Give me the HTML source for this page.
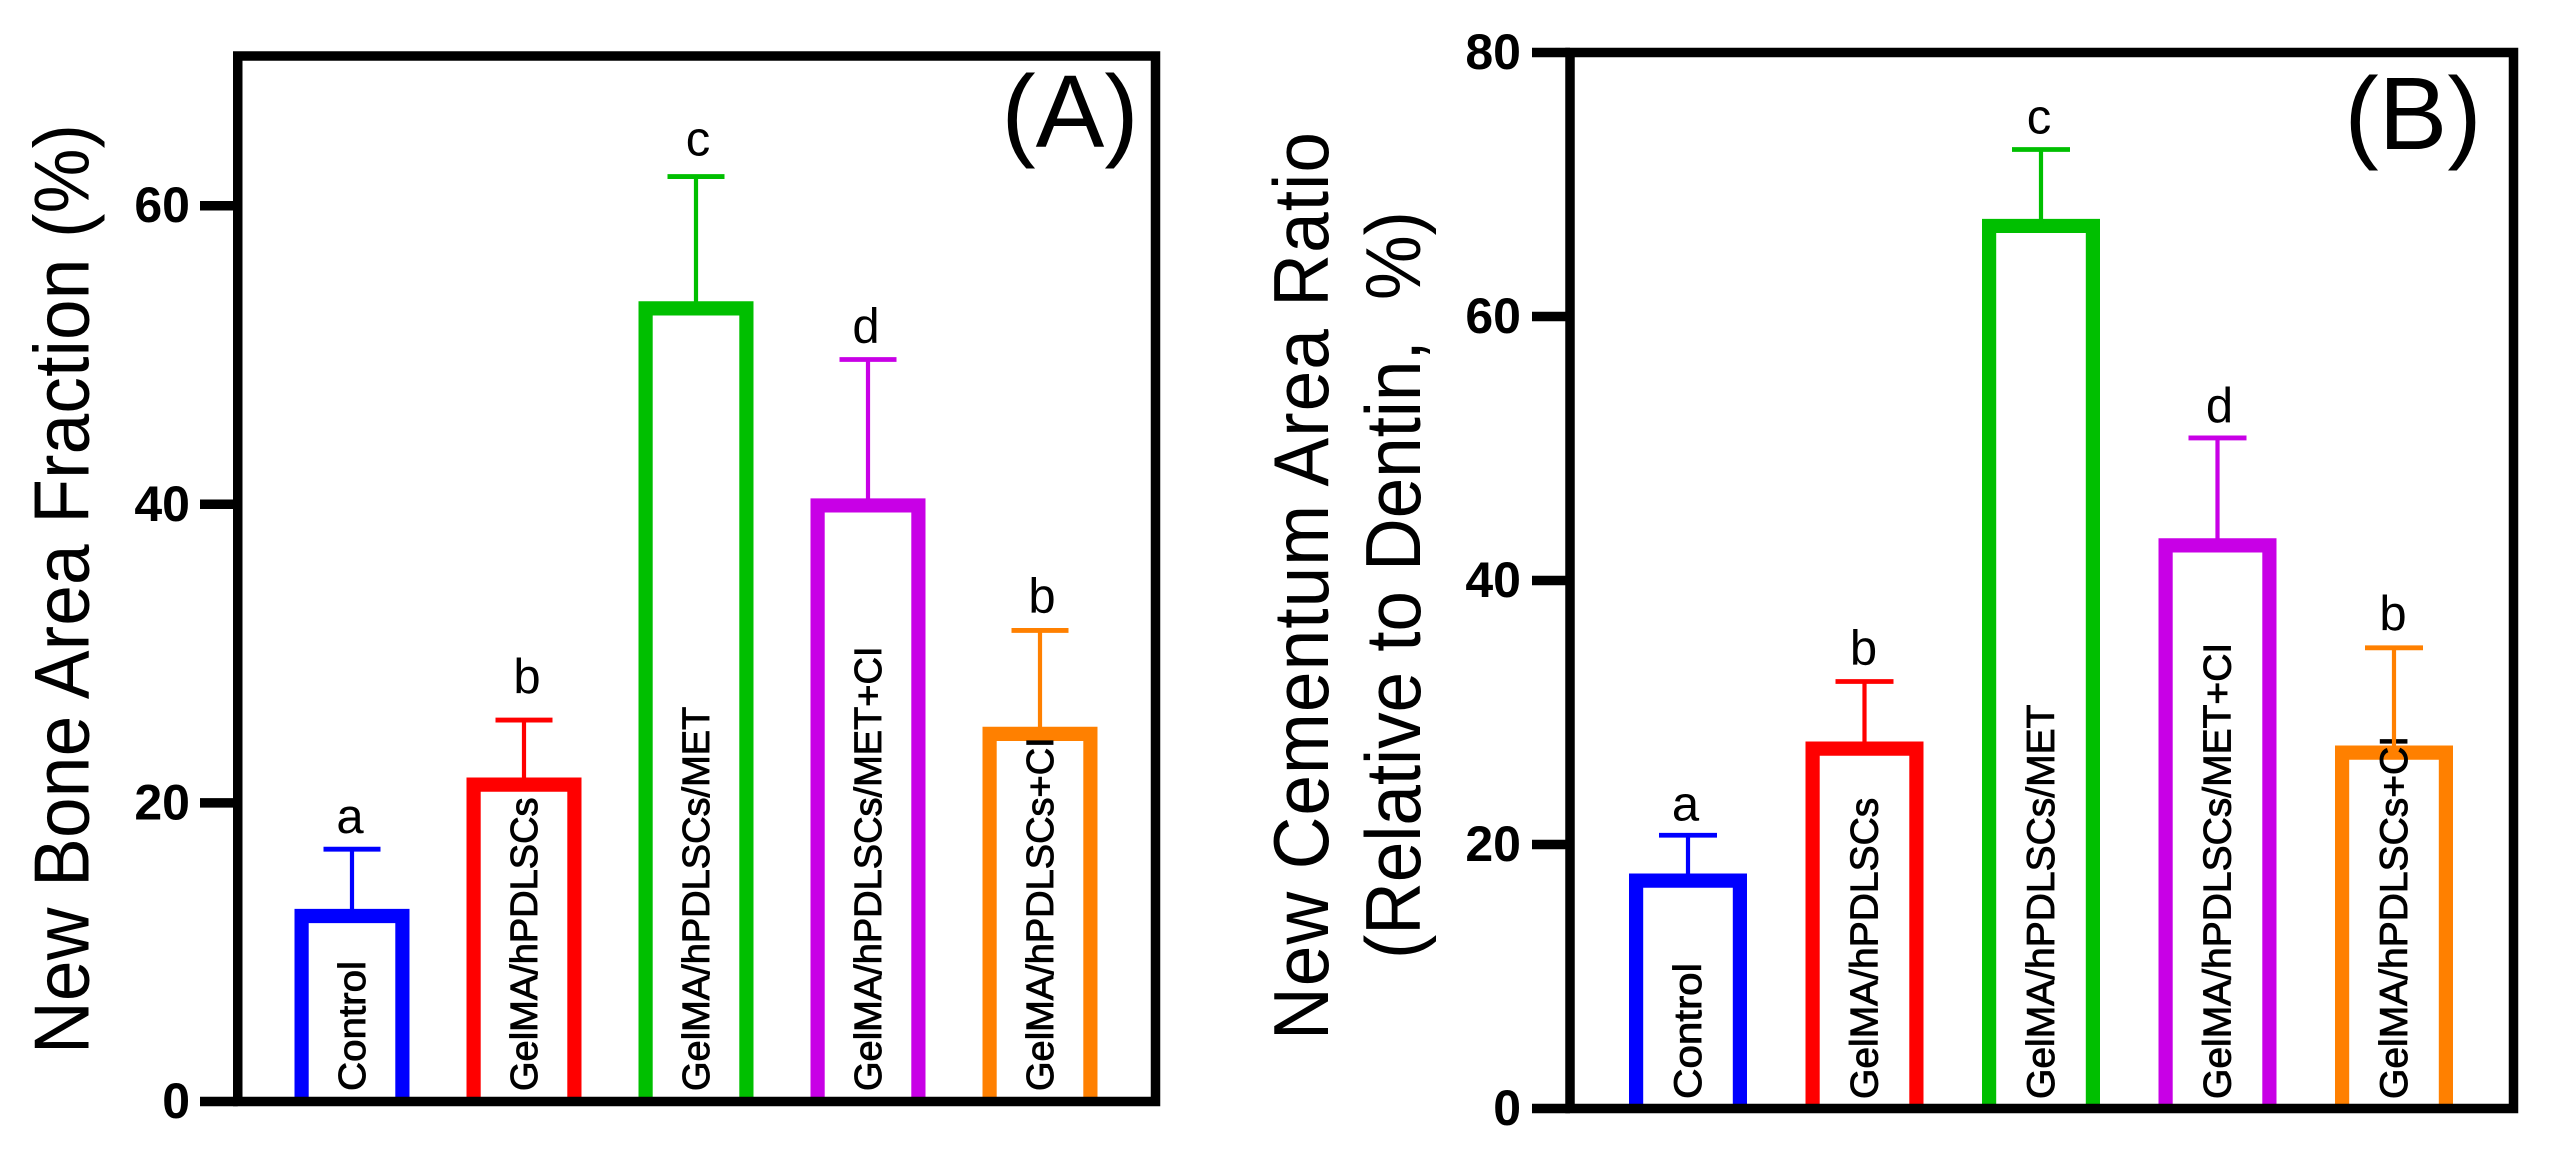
<!DOCTYPE html>
<html lang="en">
<head>
<meta charset="utf-8">
<title>New Bone and Cementum Area Charts</title>
<style>
  html, body { margin: 0; padding: 0; background: #fff; }
  svg { display: block; }
  text { font-family: "Liberation Sans", Arial, sans-serif; fill: #000; }
  .tick-label { font-size: 50px; font-weight: 700; text-anchor: end; }
  .axis-title { font-size: 73px; }
  .panel-tag { font-size: 103px; text-anchor: middle; }
  .sig-letter { font-size: 49px; text-anchor: middle; }
  .cat-label { stroke: #000; stroke-width: 0.9px; }
</style>
</head>
<body>
<svg id="figure" xmlns="http://www.w3.org/2000/svg" width="2549" height="1170" viewBox="0 0 2549 1170">
  <rect x="0" y="0" width="2549" height="1170" fill="#fff"/>
  <g id="panel-a"></g>
  <g id="panel-b"></g>
  <text class="axis-title" transform="translate(88.5,1054) rotate(-90) scale(1,1.07)" textLength="930">New Bone Area Fraction (%)</text>
  <text class="axis-title" transform="translate(1328,1040) rotate(-90) scale(1,1.07)" textLength="908">New Cementum Area Ratio</text>
  <text class="axis-title" transform="translate(1420,959) rotate(-90) scale(1,1.07)" textLength="748" xml:space="preserve">(Relative to Dentin,  %)</text>
  <text class="panel-tag" x="1070" y="147">(A)</text>
  <text class="panel-tag" x="2413" y="149">(B)</text>
</svg>
<script>
const categories = ["Control", "GelMA/hPDLSCs", "GelMA/hPDLSCs/MET", "GelMA/hPDLSCs/MET+CI", "GelMA/hPDLSCs+CI"];
const letters = ["a", "b", "c", "d", "b"];

const boneMeans = [12.9, 21.7, 53.6, 40.4, 25.1];
const boneErrors = [4.0, 3.85, 8.35, 9.3, 6.45];
const boneTicks = [0, 20, 40, 60];

const cementumMeans = [17.8, 27.8, 67.4, 43.2, 27.5];
const cementumErrors = [2.9, 4.55, 5.25, 7.6, 7.4];
const cementumTicks = [0, 20, 40, 60, 80];

const barColors = ["#0000ff", "#ff0000", "#00bf00", "#c800e6", "#ff8000"];

const SVG_NS = "http://www.w3.org/2000/svg";

function make(tag, parent, props) {
  const el = document.createElementNS(SVG_NS, tag);
  for (const k in props) el.setAttribute(k, props[k]);
  parent.appendChild(el);
  return el;
}

function drawPanel(root, means, errors, ticks, layout) {
  const yScale = v => layout.zeroY - v * layout.unit;
  const xScale = i => layout.firstX + i * layout.stepX;
  const spine = 9.5, barStroke = 14.2, half = layout.barWidth / 2;

  means.forEach((m, i) => {
    const cx = xScale(i);
    const topY = yScale(m);
    const inset = barStroke / 2;

    const bar = make("path", root, {
      d: "M" + (cx - half + inset) + " " + layout.zeroY +
         "V" + (topY + inset) +
         "H" + (cx + half - inset) +
         "V" + layout.zeroY,
      fill: "#fff", stroke: barColors[i], "stroke-width": barStroke,
      "stroke-linejoin": "miter"
    });
    
    

    const label = make("text", root, {
      class: "cat-label",
      transform: "translate(" + (cx + 13) + "," + layout.labelStartY + ") rotate(-90)",
      "font-size": layout.labelSize
    });
    if (i === 0) {
      label.setAttribute("textLength", layout.controlLength);
      label.setAttribute("lengthAdjust", "spacingAndGlyphs");
    }
    label.textContent = categories[i];
    
    

    const capY = yScale(m + errors[i]);
    const stem = make("line", root, {
      x1: cx, x2: cx, y1: capY, y2: topY + 6,
      stroke: barColors[i], "stroke-width": 4.2
    });
    
    

    const cap = make("line", root, {
      x1: cx - layout.capHalf, x2: cx + layout.capHalf, y1: capY, y2: capY,
      stroke: barColors[i], "stroke-width": 4.8
    });
    
    

    const letter = make("text", root, {
      class: "sig-letter",
      x: cx + layout.letterDx[i],
      y: capY - layout.letterDy[i]
    });
    letter.textContent = letters[i];
    
    
  });

  const frame = make("rect", root, {
    x: layout.left, y: layout.top,
    width: layout.right - layout.left,
    height: layout.zeroY - layout.top,
    fill: "none", stroke: "#000", "stroke-width": spine
  });
  
  

  ticks.forEach(t => {
    const y = yScale(t);
    const tick = make("line", root, {
      x1: layout.tickStart, x2: layout.left, y1: y, y2: y,
      stroke: "#000", "stroke-width": spine
    });
    
    

    const tickText = make("text", root, {
      class: "tick-label", x: layout.tickLabelX, y: y + 16.5
    });
    tickText.textContent = String(t);
    
    
  });
}

drawPanel(document.getElementById("panel-a"), boneMeans, boneErrors, boneTicks, {
  zeroY: 1101.5, unit: 14.93, firstX: 352, stepX: 172, barWidth: 115, capHalf: 28.5,
  left: 237.75, right: 1155.5, top: 56, tickStart: 200, tickLabelX: 190,
  labelStartY: 1091, labelSize: 38, controlLength: 130,
  letterDx: [-2, 3, 2, -2, 2], letterDy: [16, 27, 21, 17, 18]
});

drawPanel(document.getElementById("panel-b"), cementumMeans, cementumErrors, cementumTicks, {
  zeroY: 1108.5, unit: 13.2, firstX: 1688, stepX: 176.5, barWidth: 118, capHalf: 29,
  left: 1570, right: 2513.5, top: 52.5, tickStart: 1532, tickLabelX: 1521,
  labelStartY: 1099, labelSize: 39, controlLength: 136,
  letterDx: [-2.5, -1, -2, 2, -1], letterDy: [15, 17, 16, 16, 18]
});
</script>
</body>
</html>
